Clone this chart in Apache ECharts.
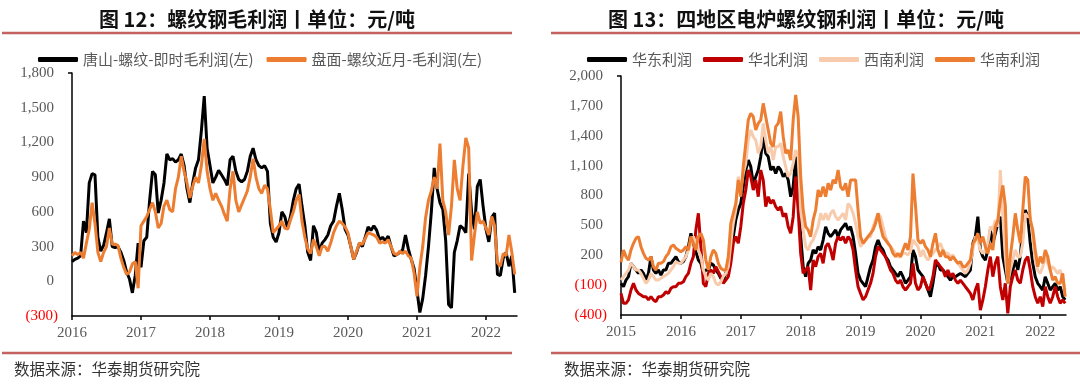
<!DOCTYPE html>
<html>
<head>
<meta charset="utf-8">
<script src="https://cdn.jsdelivr.net/npm/echarts@6/dist/echarts.min.js"></script>
<style>html,body{margin:0;padding:0;background:#fff;}#c{width:1080px;height:384px;}</style>
</head>
<body>
<div id="c"></div>
<script>
// ---- Left chart: 螺纹钢毛利润 (semi-monthly from 2016.0) ----
const leftStart = 2016;
const leftNames = ['唐山-螺纹-即时毛利润(左)', '盘面-螺纹近月-毛利润(左)'];
const tangshan = [
  170,190,200,220,520,420,850,930,920,380,260,310,420,540,300,290,300,250,180,80,20,-100,50,330,
  120,350,380,700,950,920,590,700,850,1100,1050,1060,1030,1050,1100,1000,800,680,850,980,1050,1300,1600,1150,
  1000,850,900,960,920,880,830,1050,1080,950,880,860,880,950,1080,1150,1050,1000,980,1000,950,500,380,340,
  420,600,560,460,560,700,800,840,650,480,250,180,480,420,250,330,360,400,480,520,650,760,620,450,
  400,300,190,250,330,300,380,470,440,480,440,360,380,350,390,300,220,230,250,270,400,280,190,110,
  -80,-270,-150,50,300,600,980,800,680,620,350,-200,-230,250,350,480,460,420,930,600,450,820,880,650,
  450,340,550,590,60,50,200,250,130,220,-100
];
const panmian = [
  220,250,230,250,200,330,450,680,500,250,170,250,300,460,320,320,310,200,120,60,80,150,170,-60,
  480,520,560,620,680,600,460,500,650,700,620,600,800,900,1080,950,850,720,820,900,850,1000,1230,950,
  800,700,760,700,650,580,520,800,950,700,600,660,720,780,900,1060,900,800,760,830,800,620,420,450,
  480,520,460,450,530,600,700,750,520,380,280,240,360,300,220,300,300,260,330,420,480,520,500,470,
  420,300,190,260,330,320,370,420,410,400,380,330,340,330,360,300,240,230,260,240,260,220,200,70,
  -130,120,300,550,700,780,900,800,1190,700,600,400,650,1050,800,700,1000,1240,1150,180,400,600,500,520,
  460,400,560,480,160,130,240,220,400,250,60
];
const leftYears = [2016, 2017, 2018, 2019, 2020, 2021, 2022];

// ---- Right chart: 四地区电炉螺纹钢利润 (semi-monthly from 2015.0) ----
const rightStart = 2015;
const rightNames = ['华东利润', '华北利润', '西南利润', '华南利润'];
const huadong = [
  -82,-116,-49,-15,119,85,52,18,52,18,-49,18,186,52,18,52,1,52,52,119,119,152,186,136,
  119,136,186,286,420,320,236,152,119,18,52,52,119,102,52,18,-32,-49,18,119,253,387,554,654,
  721,888,1056,1156,1090,922,989,1056,1190,1391,1224,1190,1056,1090,1022,1090,1056,989,1022,955,788,888,1190,788,
  387,85,-15,119,152,253,219,286,253,353,487,420,387,420,454,387,454,487,520,454,487,387,219,18,
  -49,-82,-116,-15,85,152,286,353,286,253,186,152,85,52,18,-15,35,-15,-82,-49,-15,253,186,52,
  18,-15,-82,-149,-216,-82,85,119,52,52,18,-15,-49,-15,-15,1,18,1,-15,18,52,320,387,587,
  253,186,152,253,454,320,420,520,587,186,52,-82,-15,52,152,52,186,487,654,587,320,119,-15,-82,
  -116,-149,-15,-82,-149,-116,-82,-149,-116,-216,-249
];
const huabei = [
  -183,-283,-283,-249,-149,-82,-149,-183,-199,-216,-216,-249,-216,-249,-266,-216,-216,-199,-166,-183,-132,-116,-116,-82,
  -82,-66,-15,18,119,186,454,621,286,-82,-116,18,52,18,85,35,-15,-82,-49,-15,119,320,387,320,
  487,721,855,1056,989,855,955,788,1056,955,688,788,721,755,688,654,688,587,621,487,420,587,989,654,
  219,18,52,85,-149,152,85,186,219,119,286,320,253,152,320,387,353,387,320,387,353,253,52,-116,
  -183,-249,-216,-149,-82,18,186,286,253,219,186,119,52,18,-49,-82,-49,-116,-149,-116,-82,119,-82,-149,
  -116,-15,-82,-149,-116,-15,152,119,85,52,-15,52,-15,18,-49,-82,-49,-82,-116,-149,-183,-249,-149,-82,
  -350,-249,-116,52,186,-15,119,186,-116,-249,-82,-383,-116,-15,52,-49,-82,52,152,186,52,-116,-216,-283,
  -216,-316,-116,-216,-283,-216,-116,-216,-283,-249,-283
];
const xinan = [
  -49,-15,18,52,119,85,52,52,18,-32,-82,-49,18,-15,-49,-49,-32,-15,1,18,52,85,136,119,
  119,152,186,253,320,387,320,253,186,52,-15,-49,18,-15,-82,-99,-66,-15,18,85,320,520,654,989,
  855,1022,1123,1357,1458,1391,1357,1224,1290,1524,1357,1224,1290,1156,1290,1290,1324,1190,1090,989,1022,1123,1257,1190,
  654,454,286,253,320,353,420,487,621,554,621,554,621,654,587,554,587,621,554,721,688,621,520,387,
  286,320,353,387,387,487,554,621,587,487,387,320,286,253,219,186,186,219,219,203,236,353,320,286,
  186,253,186,152,186,219,253,286,320,253,219,219,186,203,152,119,85,52,18,52,119,253,387,353,
  253,219,253,320,487,454,554,487,1056,600,186,-82,52,152,253,186,186,320,621,587,587,387,152,52,
  18,85,186,119,52,85,52,18,52,-49,-149
];
const huanan = [
  130,253,186,152,253,320,370,387,286,219,169,152,186,85,52,119,119,136,186,219,286,303,270,253,
  236,253,286,253,387,320,253,387,420,353,152,52,186,253,219,119,69,52,52,186,520,620,721,956,
  788,1090,1324,1558,1625,1591,1458,1524,1558,1725,1591,1458,1324,1290,1491,1524,1642,1391,1224,1257,1156,1558,1809,1591,
  989,654,487,454,387,554,654,855,788,888,788,922,855,956,922,1056,888,855,922,788,956,956,956,654,
  387,320,353,387,420,454,520,621,487,387,353,320,286,219,186,219,186,253,320,253,387,1020,700,353,
  320,353,286,253,186,320,420,253,186,253,186,186,152,186,152,119,136,85,85,119,152,320,353,420,
  320,387,286,219,320,253,487,550,750,900,700,-82,186,387,621,454,320,654,989,956,554,454,253,85,
  186,119,253,186,52,-49,-15,-82,-82,18,-216
];
const rightYears = [2015, 2016, 2017, 2018, 2019, 2020, 2021, 2022];

const colors = { black: '#000000', red: '#C00000', peach: '#F8CBAD', orange: '#ED7D31' };

function pairs(start, arr) { return arr.map((v, i) => [start + i / 24, v]); }

const SERIF = '"Liberation Serif", "DejaVu Serif", serif';
const CJK = '"Noto Sans CJK SC", sans-serif';

function yFmt(v) {
  const s = Math.abs(v).toLocaleString('en-US');
  return v < 0 ? '{n|(' + s + ')}' : '{p|' + s + '}';
}
const yRich = {
  p: { color: '#595959', fontFamily: SERIF, fontSize: 15, padding: [0, 4, 0, 0] },
  n: { color: '#FF0000', fontFamily: SERIF, fontSize: 15 }
};

function xAxis(idx, min, max, years) {
  return {
    type: 'value', gridIndex: idx, min: min, max: max,
    axisLine: { show: true, onZero: false, lineStyle: { color: '#000', width: 1.5 } },
    axisTick: { show: true, customValues: years, length: 4, lineStyle: { color: '#000', width: 1.5 } },
    axisLabel: { customValues: years, formatter: v => String(Math.round(v)), color: '#595959', fontFamily: SERIF, fontSize: 15, margin: 10 },
    splitLine: { show: false }
  };
}
function yAxis(idx, min, max, interval) {
  return {
    type: 'value', gridIndex: idx, min: min, max: max, interval: interval,
    axisLine: { show: true, onZero: false, lineStyle: { color: '#000', width: 1.5 } },
    axisTick: { show: true, customValues: [max], length: 4, lineStyle: { color: '#000', width: 1.5 } },
    axisLabel: { formatter: yFmt, rich: yRich, margin: 14 },
    splitLine: { show: false }
  };
}
function line(name, data, color, xi) {
  return {
    name: name, type: 'line', xAxisIndex: xi, yAxisIndex: xi, data: data,
    symbol: 'none', showSymbol: false, lineStyle: { color: color, width: 3 }, itemStyle: { color: color },
    emphasis: { disabled: true }
  };
}

const RED = '#C3625F';
const option = {
  animation: false,
  backgroundColor: '#fff',
  grid: [
    { left: 72, top: 73, width: 445, height: 243 },
    { left: 621, top: 76, width: 445, height: 239 }
  ],
  xAxis: [xAxis(0, 2016, 2022.45, leftYears), xAxis(1, 2015, 2022.43, rightYears)],
  yAxis: [yAxis(0, -300, 1800, 300), yAxis(1, -400, 2000, 300)],
  legend: [
    { data: leftNames, left: 33, top: 47, itemWidth: 40, itemHeight: 5, itemGap: 13, icon: 'roundRect',
      textStyle: { color: '#595959', fontFamily: CJK, fontSize: 15 } },
    { data: rightNames, left: 582, top: 47, itemWidth: 40, itemHeight: 5, itemGap: 11, icon: 'roundRect',
      textStyle: { color: '#595959', fontFamily: CJK, fontSize: 15 } }
  ],
  series: [
    line(leftNames[0], pairs(leftStart, tangshan), colors.black, 0),
    line(leftNames[1], pairs(leftStart, panmian), colors.orange, 0),
    line(rightNames[0], pairs(rightStart, huadong), colors.black, 1),
    line(rightNames[1], pairs(rightStart, huabei), colors.red, 1),
    line(rightNames[2], pairs(rightStart, xinan), colors.peach, 1),
    line(rightNames[3], pairs(rightStart, huanan), colors.orange, 1)
  ],
  graphic: [
    { type: 'text', style: { text: '图 12：螺纹钢毛利润丨单位：元/吨', x: 257, y: 19, align: 'center', verticalAlign: 'middle', textAlign: 'center', textVerticalAlign: 'middle', font: 'bold 20px "Noto Sans CJK SC"', fill: '#111' } },
    { type: 'text', style: { text: '图 13：四地区电炉螺纹钢利润丨单位：元/吨', x: 806, y: 19, align: 'center', verticalAlign: 'middle', textAlign: 'center', textVerticalAlign: 'middle', font: 'bold 20px "Noto Sans CJK SC"', fill: '#111' } },
    { type: 'line', shape: { x1: 2, y1: 33, x2: 512, y2: 33 }, style: { stroke: RED, lineWidth: 2.5 } },
    { type: 'line', shape: { x1: 551, y1: 33, x2: 1080, y2: 33 }, style: { stroke: RED, lineWidth: 2.5 } },
    { type: 'line', shape: { x1: 2, y1: 353, x2: 512, y2: 353 }, style: { stroke: RED, lineWidth: 2.5 } },
    { type: 'line', shape: { x1: 551, y1: 353, x2: 1080, y2: 353 }, style: { stroke: RED, lineWidth: 2.5 } },
    { type: 'text', style: { text: '数据来源：华泰期货研究院', x: 14, y: 369, verticalAlign: 'middle', textVerticalAlign: 'middle', font: '15.5px "Noto Sans CJK SC"', fill: '#333' } },
    { type: 'text', style: { text: '数据来源：华泰期货研究院', x: 564, y: 369, verticalAlign: 'middle', textVerticalAlign: 'middle', font: '15.5px "Noto Sans CJK SC"', fill: '#333' } }
  ]
};
const chart = echarts.init(document.getElementById('c'), null, { renderer: 'canvas' });
chart.setOption(option);
</script>
</body>
</html>
